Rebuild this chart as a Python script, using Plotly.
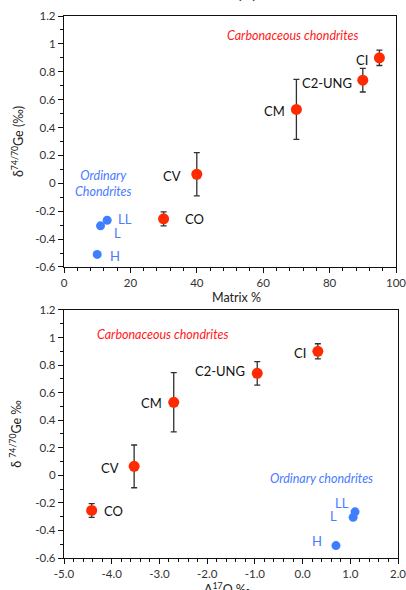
import plotly.graph_objects as go

# ---------------- data ----------------
groups = ["H", "L", "LL", "CO", "CV", "CM", "C2-UNG", "CI"]
matrix_pct = [10, 11, 13, 30, 40, 70, 90, 95]
d17o = [0.70, 1.06, 1.10, -4.42, -3.53, -2.70, -0.95, 0.32]
dge = [-0.51, -0.305, -0.265, -0.255, 0.065, 0.53, 0.74, 0.90]
dge_err = [0, 0, 0, 0.05, 0.155, 0.215, 0.085, 0.055]

oc_idx = [0, 1, 2]          # ordinary chondrites
cc_idx = [3, 4, 5, 6, 7]    # carbonaceous chondrites

y_tickvals = [-0.6, -0.4, -0.2, 0, 0.2, 0.4, 0.6, 0.8, 1.0, 1.2]
y_ticktext = ["-0.6", "-0.4", "-0.2", "0", "0.2", "0.4", "0.6", "0.8", "1", "1.2"]
x1_tickvals = [0, 20, 40, 60, 80, 100]
x2_tickvals = [-5, -4, -3, -2, -1, 0, 1, 2]
x2_ticktext = ["-5.0", "-4.0", "-3.0", "-2.0", "-1.0", "0.0", "1.0", "2.0"]

# label placements (data coords) for top and bottom panels
top_labels = {"H": (15.4, -0.522), "L": (16.0, -0.357), "LL": (18.4, -0.256),
              "CO": (39.4, -0.256), "CV": (32.5, 0.052), "CM": (63.3, 0.518),
              "C2-UNG": (79.2, 0.72), "CI": (89.8, 0.884)}
bot_labels = {"H": (0.30, -0.476), "L": (0.64, -0.295), "LL": (0.83, -0.20),
              "CO": (-3.97, -0.259), "CV": (-4.04, 0.053), "CM": (-3.16, 0.525),
              "C2-UNG": (-1.73, 0.757), "CI": (-0.05, 0.888)}

RED = "#FF2A00"
BLUE = "#3F7EFF"
BLUE_TXT = "#4A7BFF"
FONT = "Lato"

fig = go.Figure()

def sel(arr, idx):
    return [arr[i] for i in idx]

for xs, xa, ya in [(matrix_pct, "x", "y"), (d17o, "x2", "y2")]:
    fig.add_trace(go.Scatter(
        x=sel(xs, cc_idx), y=sel(dge, cc_idx), mode="markers",
        marker=dict(color=RED, size=11, line=dict(width=0)),
        error_y=dict(type="data", array=sel(dge_err, cc_idx), visible=True,
                     color="#303030", thickness=1.3, width=3),
        xaxis=xa, yaxis=ya, showlegend=False))
    fig.add_trace(go.Scatter(
        x=sel(xs, oc_idx), y=sel(dge, oc_idx), mode="markers",
        marker=dict(color=BLUE, size=9, line=dict(width=0)),
        xaxis=xa, yaxis=ya, showlegend=False))

ann = []
for name, (ax, ay) in top_labels.items():
    ann.append(dict(x=ax, y=ay, xref="x", yref="y", text=name, showarrow=False,
                    font=dict(family=FONT, size=13,
                              color=BLUE_TXT if name in ("H", "L", "LL") else "#111111")))
for name, (ax, ay) in bot_labels.items():
    ann.append(dict(x=ax, y=ay, xref="x2", yref="y2", text=name, showarrow=False,
                    font=dict(family=FONT, size=13,
                              color=BLUE_TXT if name in ("H", "L", "LL") else "#111111")))

title_font = dict(family=FONT, size=12.5, color="#222222")
ann += [
    dict(x=69, y=1.057, xref="x", yref="y", text="<i>Carbonaceous chondrites</i>",
         showarrow=False, font=dict(family=FONT, size=12.5, color="#FF1A1A")),
    dict(x=12.0, y=0.002, xref="x", yref="y", text="<i>Ordinary<br>Chondrites</i>",
         showarrow=False, font=dict(family=FONT, size=12.5, color=BLUE_TXT)),
    dict(x=-2.92, y=1.019, xref="x2", yref="y2", text="<i>Carbonaceous chondrites</i>",
         showarrow=False, font=dict(family=FONT, size=12.5, color="#FF1A1A")),
    dict(x=0.39, y=-0.026, xref="x2", yref="y2", text="<i>Ordinary chondrites</i>",
         showarrow=False, font=dict(family=FONT, size=12.5, color=BLUE_TXT)),
    # x-axis titles
    dict(x=0.515, y=0.4815, xref="paper", yref="paper", text="Matrix %",
         showarrow=False, yanchor="middle", font=title_font),
    dict(x=0.491, y=-0.0554, xref="paper", yref="paper", text="Δ<sup>17</sup>O ‰",
         showarrow=False, yanchor="middle", font=title_font),
    # "(a)" panel title, mostly cut off at the top of the page
    dict(x=0.548, y=1.0, xref="paper", yref="paper", text="(a)",
         showarrow=False, yanchor="bottom", yshift=11,
         font=dict(family=FONT, size=22, color="#444444")),
]

tickfont = dict(family=FONT, size=11.5, color="#333333")
common_axis = dict(showline=True, linecolor="#111111", linewidth=1.3, mirror=True,
                   ticks="outside", ticklen=5, tickcolor="#111111", tickwidth=1,
                   showgrid=False, zeroline=False, tickfont=tickfont, automargin=False,
                   ticklabeloverflow="allow")

fig.update_layout(
    width=406, height=590,
    margin=dict(l=64, r=8, t=16, b=32),
    paper_bgcolor="white", plot_bgcolor="white",
    font=dict(family=FONT),
    annotations=ann,
    xaxis=dict(domain=[0, 0.994], anchor="y", range=[0, 100],
               tickvals=x1_tickvals,
               minor=dict(dtick=4, ticks="outside", ticklen=3, tickcolor="#111111"),
               **common_axis),
    yaxis=dict(domain=[0.537, 1.0], anchor="x", range=[-0.6, 1.2],
               tickvals=y_tickvals, ticktext=y_ticktext,
               minor=dict(dtick=0.1, ticks="outside", ticklen=3, tickcolor="#111111"),
               title=dict(text="δ<sup>74/70</sup>Ge (‰)", font=title_font, standoff=8),
               **common_axis),
    xaxis2=dict(domain=[0, 1.0], anchor="y2", range=[-5, 2],
                tickvals=x2_tickvals, ticktext=x2_ticktext,
                minor=dict(dtick=0.2, ticks="outside", ticklen=3, tickcolor="#111111"),
                **common_axis),
    yaxis2=dict(domain=[0, 0.4576], anchor="x2", range=[-0.6, 1.2],
                tickvals=y_tickvals, ticktext=y_ticktext,
                minor=dict(dtick=0.1, ticks="outside", ticklen=3, tickcolor="#111111"),
                title=dict(text="δ <sup>74/70</sup>Ge ‰", font=title_font, standoff=10),
                **common_axis),
)

# remove the default 8px page margin so the figure fills the 406x590 window
fig.write_html("out.html", config={"displayModeBar": False},
               post_script="document.body.style.margin='0';")
